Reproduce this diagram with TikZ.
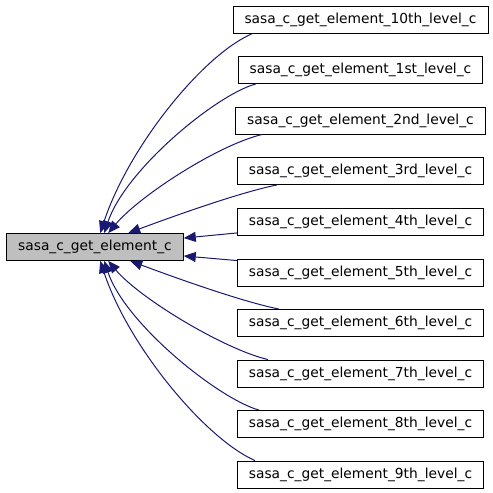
\documentclass[tikz,border=0pt]{standalone}
\usepackage{fontspec}
\setmainfont{DejaVu Sans}
\usetikzlibrary{arrows.meta}
\definecolor{edgeblue}{HTML}{191970}
\definecolor{nodegray}{HTML}{BFBFBF}
\begin{document}
\begin{tikzpicture}[
        x=1pt, y=-1pt,
        every node/.style={draw, rectangle, minimum height=27pt, inner xsep=11.5pt, line width=0.9pt,
            font=\fontsize{13.8}{16}\selectfont},
        callee/.style={fill=nodegray},
        edge/.style={draw=edgeblue, line width=1pt, -{Triangle[length=12pt, width=10pt]}, edgeblue},
    ]
    \useasboundingbox (0,0) rectangle (493,493);
    \node[callee](main) at (95,247){sasa\_c\_get\_element\_c};
    \node(c10) at (360.5,20){sasa\_c\_get\_element\_10th\_level\_c};
    \node(c1) at (360.5,70){sasa\_c\_get\_element\_1st\_level\_c};
    \node(c2) at (360.5,120.5){sasa\_c\_get\_element\_2nd\_level\_c};
    \node(c3) at (360.5,171){sasa\_c\_get\_element\_3rd\_level\_c};
    \node(c4) at (360.5,222){sasa\_c\_get\_element\_4th\_level\_c};
    \node(c5) at (360.5,272.5){sasa\_c\_get\_element\_5th\_level\_c};
    \node(c6) at (360.5,323){sasa\_c\_get\_element\_6th\_level\_c};
    \node(c7) at (360.5,373.5){sasa\_c\_get\_element\_7th\_level\_c};
    \node(c8) at (360.5,424){sasa\_c\_get\_element\_8th\_level\_c};
    \node(c9) at (360.5,474.5){sasa\_c\_get\_element\_9th\_level\_c};
    % callers above
    \draw[edge] ([xshift=19pt]c10.south west) .. controls +(-50,22) and +(28,-85) .. ([xshift=94pt]main.north west);
    \draw[edge] ([xshift=18pt]c1.south west) .. controls +(-40,11) and +(21,-63) .. ([xshift=98pt]main.north west);
    \draw[edge] ([xshift=27pt]c2.south west) .. controls +(-43,10) and +(32,-38) .. ([xshift=102pt]main.north west);
    \draw[edge] ([xshift=40pt]c3.south west) .. controls +(-40,8) and +(35,-13) .. ([xshift=122pt]main.north west);
    \draw[edge] ([yshift=3pt]c4.south west) -- ([yshift=-5pt]main.north east);
    % callers below
    \draw[edge] ([yshift=-2pt]c5.north west) -- ([yshift=5pt]main.south east);
    \draw[edge] ([xshift=42pt]c6.north west) .. controls +(-40,-8) and +(35,13) .. ([xshift=124pt]main.south west);
    \draw[edge] ([xshift=31pt]c7.north west) .. controls +(-43,-10) and +(32,38) .. ([xshift=102pt]main.south west);
    \draw[edge] ([xshift=22pt]c8.north west) .. controls +(-40,-11) and +(21,63) .. ([xshift=98pt]main.south west);
    \draw[edge] ([xshift=18pt]c9.north west) .. controls +(-50,-22) and +(28,85) .. ([xshift=94pt]main.south west);
\end{tikzpicture}
\end{document}
